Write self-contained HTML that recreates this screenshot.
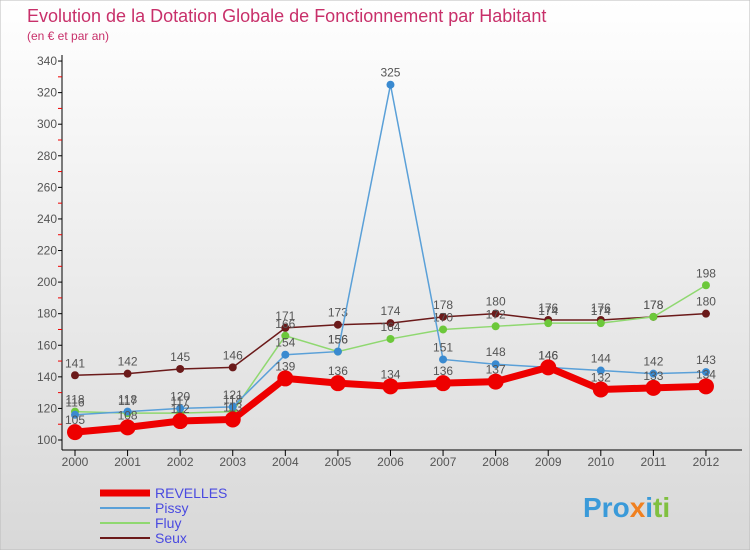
<!DOCTYPE html>
<html><head><meta charset="utf-8"><style>
body{margin:0;width:750px;height:550px;overflow:hidden;font-family:"Liberation Sans",sans-serif}
</style></head><body>
<svg width="750" height="550">
<defs><linearGradient id="bg" x1="0" y1="0" x2="0" y2="1"><stop offset="0" stop-color="#ffffff"/><stop offset="1" stop-color="#d8d8d8"/></linearGradient></defs>
<rect width="750" height="550" fill="url(#bg)" stroke="#bbb"/>
<text x="27" y="22" font-size="18" fill="#c8306a">Evolution de la Dotation Globale de Fonctionnement par Habitant</text>
<text x="27" y="40" font-size="12" fill="#c8306a">(en € et par an)</text>
<g id="axes"></g><g id="series"></g><g id="legend"></g>
<text x="583" y="517" font-size="28" font-weight="bold" fill="#3a9ad9">Pro<tspan fill="#f08020">x</tspan><tspan fill="#3a9ad9">i</tspan><tspan fill="#80c040">ti</tspan></text>
</svg>
<script>
const years=[2000,2001,2002,2003,2004,2005,2006,2007,2008,2009,2010,2011,2012];
const revelles=[105,108,112,113,139,136,134,136,137,146,132,133,134];
const pissy=[116,118,120,121,154,156,325,151,148,146,144,142,143];
const fluy=[118,117,117,118,166,156,164,170,172,174,174,178,198];
const seux=[141,142,145,146,171,173,174,178,180,176,176,178,180];
const yTicks=[100,120,140,160,180,200,220,240,260,280,300,320,340];
const NS="http://www.w3.org/2000/svg";
const x=i=>75+i*52.58, y=v=>440-(v-100)*1.579;
function mk(t,a,p){const e=document.createElementNS(NS,t);for(const k in a)e.setAttribute(k,a[k]);p.appendChild(e);return e;}
const ax=document.getElementById('axes');
let l=mk('line',{x1:62,y1:55,x2:62,y2:450,stroke:'#000'},ax);


l=mk('line',{x1:62,y1:450,x2:742,y2:450,stroke:'#000'},ax);


yTicks.forEach((v,i)=>{
  mk('line',{x1:58,y1:y(v),x2:62,y2:y(v),stroke:'#000'},ax);
  if(i<yTicks.length-1) mk('line',{x1:58,y1:y(v+10),x2:62,y2:y(v+10),stroke:'#e00'},ax);
  const t=mk('text',{x:57,y:y(v)+4,'font-size':12,'text-anchor':'end',fill:'#555'},ax);t.textContent=v;
  
  
});
years.forEach((yr,i)=>{
  mk('line',{x1:x(i),y1:450,x2:x(i),y2:456,stroke:'#000'},ax);
  const t=mk('text',{x:x(i),y:466,'font-size':12,'text-anchor':'middle',fill:'#555'},ax);t.textContent=yr;
  
  
});
const sg=document.getElementById('series');
const defs=[['seux',seux,'#6b1a1a',1.5,4,'#6b1a1a'],['fluy',fluy,'#8fd870',1.5,4,'#6cc83a'],['pissy',pissy,'#5aa0d8',1.5,4,'#3a8ad0'],['revelles',revelles,'#ee0000',7,8,'#ee0000']];
defs.forEach(([n,d,c,w,r,fc])=>{
  const p=mk('polyline',{points:d.map((v,i)=>x(i)+','+y(v)).join(' '),fill:'none',stroke:c,'stroke-width':w},sg);
  
  
  d.forEach((v,i)=>{
    const ci=mk('circle',{cx:x(i),cy:y(v),r:r,fill:fc},sg);
    
    
    const t=mk('text',{x:x(i),y:y(v)-8,'font-size':12,'text-anchor':'middle',fill:'#555'},sg);t.textContent=v;
    
    
  });
});
const lg=document.getElementById('legend');
[['REVELLES','#ee0000',7],['Pissy','#5aa0d8',2],['Fluy','#8fd870',2],['Seux','#6b1a1a',2]].forEach(([n,c,w],i)=>{
  const yy=493+i*15;
  const ln=mk('line',{x1:100,y1:yy,x2:150,y2:yy,stroke:c,'stroke-width':w},lg);
  
  
  const t=mk('text',{x:155,y:yy+5,'font-size':14,fill:'#4a4ae0'},lg);t.textContent=n;
  
  
});
</script>
</body></html>
